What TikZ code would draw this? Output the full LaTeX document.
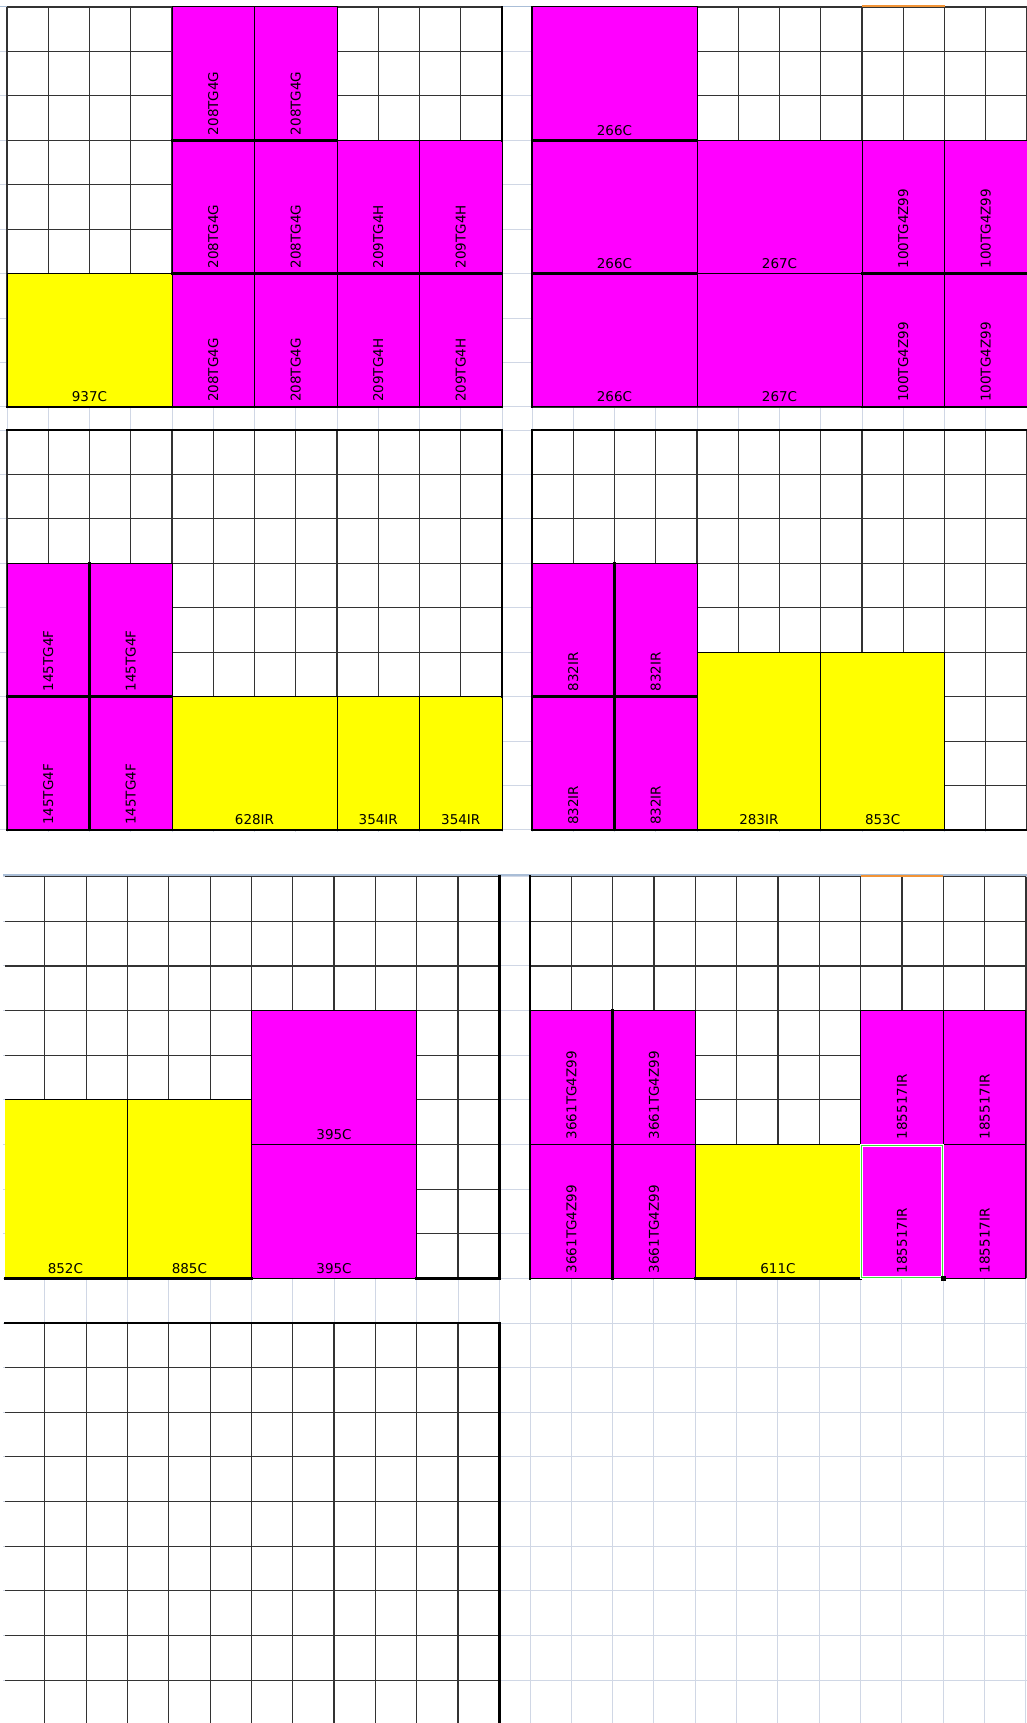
\documentclass[tikz,border=0pt]{standalone}
\usepackage{fontspec}
\setmainfont{DejaVu Sans}
\definecolor{mag}{RGB}{255,0,255}
\definecolor{yel}{RGB}{255,255,0}
\definecolor{bgblue}{RGB}{208,215,229}
\definecolor{hdrblue}{RGB}{170,190,215}
\definecolor{orng}{RGB}{242,148,54}
\definecolor{selgreen}{RGB}{60,220,60}
\newcommand\pgrid[6]{%
  \fill[white] ({#6},{#2(#3)}) rectangle ({#1(12)},{#2(#4)});
  \foreach \k in {#5,...,12} \draw[gridl] ({#1(\k)},{#2(#3)}) -- ({#1(\k)},{#2(#4)});
  \foreach \k in {#3,...,#4} \draw[gridl] ({#6},{#2(\k)}) -- ({#1(12)},{#2(\k)});
}
\newcommand\mcell[5]{\filldraw[cellfr,fill=#5] ({#1},{#2}) rectangle ({#3},{#4});}
\newcommand\vlab[5]{\node[vlabel] (#1) at ({(#2+#3)/2},{#4-5}) {#5};}
\newcommand\hlab[5]{\node[hlabel] (#1) at ({(#2+#3)/2},{#4-5}) {#5};}
\begin{document}
\begin{tikzpicture}[x=1pt,y=-1pt,
  declare function={xa(\k)=7+41.25*\k; xb(\k)=532+41.25*\k; ya(\k)=7+44.44*\k; yb(\k)=430+44.44*\k; xc(\k)=3.4+41.33*\k; xd(\k)=530+41.33*\k; yc(\k)=876.7+44.63*\k;},
  bgl/.style={draw=bgblue,line width=1pt},
  hdrl/.style={draw=hdrblue,line width=1.5pt},
  gridl/.style={draw=black!80,line width=1.1pt},
  cellfr/.style={draw=black,line width=1pt},
  thickl/.style={draw=black,line width=2.8pt,line cap=rect},
  vlabel/.style={rotate=90,anchor=west,inner sep=0pt,font=\fontsize{13.5}{15}\selectfont},
  hlabel/.style={anchor=base,inner sep=0pt,font=\fontsize{13.5}{15}\selectfont}]
\useasboundingbox (0,0) rectangle (1027,1723);
\fill[white] (0,0) rectangle (1027,1723);
% background spreadsheet grid, upper screenshot
\foreach \k in {0,...,12}{\draw[bgl] ({xa(\k)},7) -- ({xa(\k)},832); \draw[bgl] ({xb(\k)},7) -- ({xb(\k)},832);}
\foreach \k in {0,...,9}{\draw[bgl] (0,{ya(\k)}) -- (1027,{ya(\k)}); \draw[bgl] (0,{yb(\k)}) -- (1027,{yb(\k)});}
\draw[hdrl] (0,6.5) -- (1027,6.5);
% background spreadsheet grid, lower screenshot
\foreach \k in {1,...,12} \draw[bgl] ({xc(\k)},{yc(0)}) -- ({xc(\k)},1723);
\foreach \k in {0,...,12} \draw[bgl] ({xd(\k)},{yc(0)}) -- ({xd(\k)},1723);
\foreach \k in {0,...,19} \draw[bgl] (3,{yc(\k)}) -- (1027,{yc(\k)});
\draw[hdrl] (3,{yc(0)-1.5}) -- (1027,{yc(0)-1.5});

% ===== Panel 1 =====
\pgrid{xa}{ya}{0}{9}{0}{7}
\mcell{xa(4)}{ya(0)}{xa(6)}{ya(3)}{mag}
\mcell{xa(6)}{ya(0)}{xa(8)}{ya(3)}{mag}
\mcell{xa(4)}{ya(3)}{xa(6)}{ya(6)}{mag}
\mcell{xa(6)}{ya(3)}{xa(8)}{ya(6)}{mag}
\mcell{xa(8)}{ya(3)}{xa(10)}{ya(6)}{mag}
\mcell{xa(10)}{ya(3)}{xa(12)}{ya(6)}{mag}
\mcell{xa(4)}{ya(6)}{xa(6)}{ya(9)}{mag}
\mcell{xa(6)}{ya(6)}{xa(8)}{ya(9)}{mag}
\mcell{xa(8)}{ya(6)}{xa(10)}{ya(9)}{mag}
\mcell{xa(10)}{ya(6)}{xa(12)}{ya(9)}{mag}
\mcell{xa(0)}{ya(6)}{xa(4)}{ya(9)}{yel}
\vlab{p1a}{xa(4)}{xa(6)}{ya(3)}{208TG4G}
\vlab{p1b}{xa(6)}{xa(8)}{ya(3)}{208TG4G}
\vlab{p1c}{xa(4)}{xa(6)}{ya(6)}{208TG4G}
\vlab{p1d}{xa(6)}{xa(8)}{ya(6)}{208TG4G}
\vlab{p1e}{xa(8)}{xa(10)}{ya(6)}{209TG4H}
\vlab{p1f}{xa(10)}{xa(12)}{ya(6)}{209TG4H}
\vlab{p1g}{xa(4)}{xa(6)}{ya(9)}{208TG4G}
\vlab{p1h}{xa(6)}{xa(8)}{ya(9)}{208TG4G}
\vlab{p1i}{xa(8)}{xa(10)}{ya(9)}{209TG4H}
\vlab{p1j}{xa(10)}{xa(12)}{ya(9)}{209TG4H}
\hlab{p1k}{xa(0)}{xa(4)}{ya(9)}{937C}
\draw[thickl] ({xa(4)},{ya(3)}) -- ({xa(8)},{ya(3)});
\draw[thickl] ({xa(4)},{ya(6)}) -- ({xa(12)},{ya(6)});
\draw[thickl] ({xa(0)},{ya(9)}) -- ({xa(12)},{ya(9)});
\draw[thickl] ({xa(12)},{ya(0)}) -- ({xa(12)},{ya(3)});

% ===== Panel 2 =====
\pgrid{xb}{ya}{0}{9}{0}{532}
\mcell{xb(0)}{ya(0)}{xb(4)}{ya(3)}{mag}
\mcell{xb(0)}{ya(3)}{xb(4)}{ya(6)}{mag}
\mcell{xb(0)}{ya(6)}{xb(4)}{ya(9)}{mag}
\mcell{xb(4)}{ya(3)}{xb(8)}{ya(6)}{mag}
\mcell{xb(4)}{ya(6)}{xb(8)}{ya(9)}{mag}
\mcell{xb(8)}{ya(3)}{xb(10)}{ya(6)}{mag}
\mcell{xb(10)}{ya(3)}{xb(12)}{ya(6)}{mag}
\mcell{xb(8)}{ya(6)}{xb(10)}{ya(9)}{mag}
\mcell{xb(10)}{ya(6)}{xb(12)}{ya(9)}{mag}
\hlab{p2a}{xb(0)}{xb(4)}{ya(3)}{266C}
\hlab{p2b}{xb(0)}{xb(4)}{ya(6)}{266C}
\hlab{p2c}{xb(0)}{xb(4)}{ya(9)}{266C}
\hlab{p2d}{xb(4)}{xb(8)}{ya(6)}{267C}
\hlab{p2e}{xb(4)}{xb(8)}{ya(9)}{267C}
\vlab{p2f}{xb(8)}{xb(10)}{ya(6)}{100TG4Z99}
\vlab{p2g}{xb(10)}{xb(12)}{ya(6)}{100TG4Z99}
\vlab{p2h}{xb(8)}{xb(10)}{ya(9)}{100TG4Z99}
\vlab{p2i}{xb(10)}{xb(12)}{ya(9)}{100TG4Z99}
\draw[thickl] ({xb(0)},{ya(0)}) -- ({xb(0)},{ya(9)});
\draw[thickl] ({xb(0)},{ya(3)}) -- ({xb(4)},{ya(3)});
\draw[thickl] ({xb(0)},{ya(6)}) -- ({xb(4)},{ya(6)});
\draw[thickl] ({xb(8)},{ya(6)}) -- ({xb(12)},{ya(6)});
\draw[thickl] ({xb(8)},{ya(9)}) -- ({xb(12)},{ya(9)});
\draw[orng,line width=2pt] ({xb(8)},{ya(0)-0.5}) -- ({xb(10)},{ya(0)-0.5});

% ===== Panel 3 =====
\pgrid{xa}{yb}{0}{9}{0}{7}
\mcell{xa(0)}{yb(3)}{xa(2)}{yb(6)}{mag}
\mcell{xa(2)}{yb(3)}{xa(4)}{yb(6)}{mag}
\mcell{xa(0)}{yb(6)}{xa(2)}{yb(9)}{mag}
\mcell{xa(2)}{yb(6)}{xa(4)}{yb(9)}{mag}
\mcell{xa(4)}{yb(6)}{xa(8)}{yb(9)}{yel}
\mcell{xa(8)}{yb(6)}{xa(10)}{yb(9)}{yel}
\mcell{xa(10)}{yb(6)}{xa(12)}{yb(9)}{yel}
\vlab{p3a}{xa(0)}{xa(2)}{yb(6)}{145TG4F}
\vlab{p3b}{xa(2)}{xa(4)}{yb(6)}{145TG4F}
\vlab{p3c}{xa(0)}{xa(2)}{yb(9)}{145TG4F}
\vlab{p3d}{xa(2)}{xa(4)}{yb(9)}{145TG4F}
\hlab{p3e}{xa(4)}{xa(8)}{yb(9)}{628IR}
\hlab{p3f}{xa(8)}{xa(10)}{yb(9)}{354IR}
\hlab{p3g}{xa(10)}{xa(12)}{yb(9)}{354IR}
\draw[thickl] ({xa(0)},{yb(0)}) -- ({xa(12)},{yb(0)});
\draw[thickl] ({xa(12)},{yb(0)}) -- ({xa(12)},{yb(6)});
\draw[thickl] ({xa(0)},{yb(9)}) -- ({xa(12)},{yb(9)});
\draw[thickl] ({xa(2)},{yb(3)}) -- ({xa(2)},{yb(9)});
\draw[thickl] ({xa(0)},{yb(6)}) -- ({xa(4)},{yb(6)});

% ===== Panel 4 =====
\pgrid{xb}{yb}{0}{9}{0}{532}
\mcell{xb(0)}{yb(3)}{xb(2)}{yb(6)}{mag}
\mcell{xb(2)}{yb(3)}{xb(4)}{yb(6)}{mag}
\mcell{xb(0)}{yb(6)}{xb(2)}{yb(9)}{mag}
\mcell{xb(2)}{yb(6)}{xb(4)}{yb(9)}{mag}
\mcell{xb(4)}{yb(5)}{xb(7)}{yb(9)}{yel}
\mcell{xb(7)}{yb(5)}{xb(10)}{yb(9)}{yel}
\vlab{p4a}{xb(0)}{xb(2)}{yb(6)}{832IR}
\vlab{p4b}{xb(2)}{xb(4)}{yb(6)}{832IR}
\vlab{p4c}{xb(0)}{xb(2)}{yb(9)}{832IR}
\vlab{p4d}{xb(2)}{xb(4)}{yb(9)}{832IR}
\hlab{p4e}{xb(4)}{xb(7)}{yb(9)}{283IR}
\hlab{p4f}{xb(7)}{xb(10)}{yb(9)}{853C}
\draw[thickl] ({xb(0)},{yb(0)}) -- ({xb(12)},{yb(0)});
\draw[thickl] ({xb(0)},{yb(0)}) -- ({xb(0)},{yb(9)});
\draw[thickl] ({xb(0)},{yb(9)}) -- ({xb(12)},{yb(9)});
\draw[thickl] ({xb(2)},{yb(3)}) -- ({xb(2)},{yb(9)});
\draw[thickl] ({xb(0)},{yb(6)}) -- ({xb(4)},{yb(6)});

% ===== Panel 5 =====
\pgrid{xc}{yc}{0}{9}{1}{5}
\fill[yel] (5,{yc(5)}) rectangle ({xc(3)},{yc(9)});
\draw[cellfr] (5,{yc(5)}) -- ({xc(3)},{yc(5)}) -- ({xc(3)},{yc(9)}) -- (5,{yc(9)});
\mcell{xc(3)}{yc(5)}{xc(6)}{yc(9)}{yel}
\mcell{xc(6)}{yc(3)}{xc(10)}{yc(6)}{mag}
\mcell{xc(6)}{yc(6)}{xc(10)}{yc(9)}{mag}
\hlab{p5a}{xc(0)}{xc(3)}{yc(9)}{852C}
\hlab{p5b}{xc(3)}{xc(6)}{yc(9)}{885C}
\hlab{p5c}{xc(6)}{xc(10)}{yc(6)}{395C}
\hlab{p5d}{xc(6)}{xc(10)}{yc(9)}{395C}
\draw[thickl] ({xc(12)},{yc(0)}) -- ({xc(12)},{yc(9)});
\draw[thickl] (5,{yc(9)}) -- ({xc(6)},{yc(9)});
\draw[thickl] ({xc(10)},{yc(9)}) -- ({xc(12)},{yc(9)});

% ===== Panel 6 =====
\pgrid{xd}{yc}{0}{9}{0}{530}
\mcell{xd(0)}{yc(3)}{xd(2)}{yc(6)}{mag}
\mcell{xd(2)}{yc(3)}{xd(4)}{yc(6)}{mag}
\mcell{xd(0)}{yc(6)}{xd(2)}{yc(9)}{mag}
\mcell{xd(2)}{yc(6)}{xd(4)}{yc(9)}{mag}
\mcell{xd(4)}{yc(6)}{xd(8)}{yc(9)}{yel}
\mcell{xd(8)}{yc(3)}{xd(10)}{yc(6)}{mag}
\mcell{xd(10)}{yc(3)}{xd(12)}{yc(6)}{mag}
\mcell{xd(8)}{yc(6)}{xd(10)}{yc(9)}{mag}
\mcell{xd(10)}{yc(6)}{xd(12)}{yc(9)}{mag}
\vlab{p6a}{xd(0)}{xd(2)}{yc(6)}{3661TG4Z99}
\vlab{p6b}{xd(2)}{xd(4)}{yc(6)}{3661TG4Z99}
\vlab{p6c}{xd(0)}{xd(2)}{yc(9)}{3661TG4Z99}
\vlab{p6d}{xd(2)}{xd(4)}{yc(9)}{3661TG4Z99}
\hlab{p6e}{xd(4)}{xd(8)}{yc(9)}{611C}
\vlab{p6f}{xd(8)}{xd(10)}{yc(6)}{185517IR}
\vlab{p6g}{xd(10)}{xd(12)}{yc(6)}{185517IR}
\vlab{p6h}{xd(8)}{xd(10)}{yc(9)}{185517IR}
\vlab{p6i}{xd(10)}{xd(12)}{yc(9)}{185517IR}
\draw[thickl] ({xd(0)},{yc(0)}) -- ({xd(0)},{yc(9)});
\draw[thickl] ({xd(2)},{yc(3)}) -- ({xd(2)},{yc(9)});
\draw[thickl] ({xd(4)},{yc(9)}) -- ({xd(8)},{yc(9)});
\draw[orng,line width=2pt] ({xd(8)},{yc(0)-0.5}) -- ({xd(10)},{yc(0)-0.5});
\draw[white,line width=3pt] ({xd(8)+1},{yc(6)+1}) rectangle ({xd(10)-1},{yc(9)-1});
\draw[selgreen,line width=1.6pt] ({xd(8)+1},{yc(6)+1}) rectangle ({xd(10)-1},{yc(9)-1});
\fill[black] ({xd(10)-2.5},{yc(9)-2.5}) rectangle ({xd(10)+2.5},{yc(9)+2.5});

% ===== Panel 7 =====
\pgrid{xc}{yc}{10}{19}{1}{5}
\draw[thickl] (5,{yc(10)}) -- ({xc(12)},{yc(10)});
\draw[thickl] ({xc(12)},{yc(10)}) -- ({xc(12)},1726);
\end{tikzpicture}
\end{document}
